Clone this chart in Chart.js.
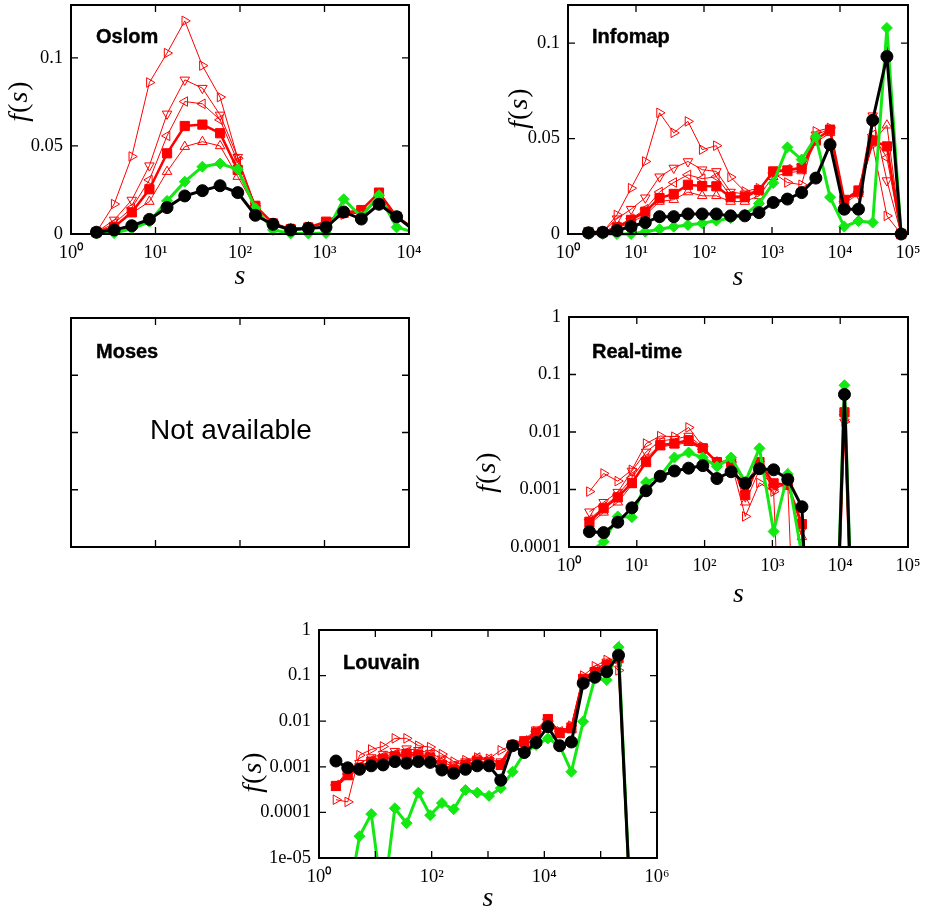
<!DOCTYPE html>
<html>
<head>
<meta charset="utf-8">
<script src="https://cdn.jsdelivr.net/npm/chart.js@4.4.1/dist/chart.umd.min.js"></script>
<style>
  body { margin: 0; background: #fff; width: 929px; height: 922px; position: relative; overflow: hidden; }
  canvas { position: absolute; }
  .tag { position: absolute; font: bold 20px "Liberation Sans", Arial, sans-serif; line-height: 20px; color: #000; -webkit-text-stroke: 0.4px #000; white-space: nowrap; }
  .na { position: absolute; font: 28px "Liberation Sans", Arial, sans-serif; line-height: 28px; color: #000; white-space: nowrap; }
</style>
</head>
<body>
<canvas id="c-oslom"></canvas>
<canvas id="c-infomap"></canvas>
<canvas id="c-moses"></canvas>
<canvas id="c-realtime"></canvas>
<canvas id="c-louvain"></canvas>
<div class="tag" style="left:96px;top:26px">Oslom</div>
<div class="tag" style="left:592px;top:26px">Infomap</div>
<div class="tag" style="left:96px;top:341px">Moses</div>
<div class="tag" style="left:592px;top:341px">Real-time</div>
<div class="tag" style="left:343px;top:652px">Louvain</div>
<div class="na" style="left:150px;top:416px">Not available</div>
<script>
// ---------- data ----------
// log bins of community size s
const S_BINS = [2, 3.24, 5.24, 8.47, 13.7, 22.2, 35.9, 58.1, 94, 152, 246, 398, 644, 1042,
  1686, 2728, 4414, 7142, 11556, 18698, 30254, 48952, 79206, 128158, 207364, 335522];

// Oslom (linear y)
const OSLOM_TRI_R = [0.001, 0.017, 0.044, 0.086, 0.1027, 0.121, 0.0956, 0.0777, 0.043, 0.016, 0.006, 0.003, 0.004, 0.006, 0.011, 0.012, 0.02, 0.01, 0.003];
const OSLOM_TRI_D = [0.001, 0.008, 0.0193, 0.0388, 0.0682, 0.0875, 0.0828, 0.0676, 0.0436, 0.016, 0.006, 0.003, 0.004, 0.006, 0.012, 0.013, 0.024, 0.01, 0.003];
const OSLOM_TRI_L = [0.001, 0.006, 0.0148, 0.0307, 0.0557, 0.0752, 0.0739, 0.0648, 0.041, 0.016, 0.006, 0.003, 0.004, 0.006, 0.012, 0.012, 0.02, 0.01, 0.003];
const OSLOM_TRI_U = [0.001, 0.004, 0.0118, 0.0184, 0.0354, 0.0496, 0.0524, 0.05, 0.0326, 0.015, 0.006, 0.003, 0.004, 0.006, 0.012, 0.012, 0.019, 0.01, 0.003];
const OSLOM_SQ    = [0.001, 0.004, 0.0123, 0.0254, 0.0458, 0.0613, 0.0621, 0.0572, 0.0364, 0.016, 0.006, 0.0027, 0.0037, 0.007, 0.012, 0.0136, 0.0235, 0.0098, 0.003];
const OSLOM_GREEN = [0.0003, 0.0005, 0.003, 0.007, 0.0188, 0.0297, 0.0382, 0.04, 0.0367, 0.0146, 0.0023, 0.0003, 0.0003, 0.0005, 0.0197, 0.0098, 0.022, 0.0038, 0.001];
const OSLOM_BLACK = [0.001, 0.0023, 0.0047, 0.0083, 0.015, 0.0216, 0.0246, 0.0274, 0.0235, 0.0106, 0.0055, 0.0023, 0.0032, 0.0038, 0.0125, 0.0085, 0.0169, 0.0098, 0.002];

// Infomap (linear y)
const INFO_TRI_R = [0.001, 0.001, 0.01, 0.024, 0.038, 0.0635, 0.053, 0.059, 0.0442, 0.0463, 0.0298, 0.0223, 0.024, 0.032, 0.027, 0.0258, 0.0538, 0.0556, 0.018, 0.022, 0.0468, 0.0095, 0];
const INFO_TRI_D = [0.001, 0.001, 0.008, 0.013, 0.019, 0.03, 0.0346, 0.038, 0.0337, 0.0328, 0.022, 0.021, 0.023, 0.033, 0.034, 0.035, 0.052, 0.055, 0.018, 0.021, 0.062, 0.028, 0];
const INFO_TRI_L = [0.001, 0.001, 0.004, 0.008, 0.013, 0.022, 0.027, 0.031, 0.029, 0.03, 0.02, 0.02, 0.023, 0.032, 0.034, 0.034, 0.05, 0.054, 0.017, 0.022, 0.052, 0.04, 0];
const INFO_TRI_U = [0.001, 0.001, 0.003, 0.006, 0.01, 0.017, 0.018, 0.022, 0.02, 0.02, 0.017, 0.017, 0.02, 0.03, 0.032, 0.033, 0.048, 0.053, 0.016, 0.021, 0.048, 0.057, 0];
const INFO_SQ    = [0.001, 0.001, 0.0035, 0.0074, 0.0117, 0.0188, 0.021, 0.0258, 0.0251, 0.025, 0.0193, 0.0193, 0.023, 0.0328, 0.0333, 0.0346, 0.0494, 0.0547, 0.0179, 0.0228, 0.049, 0.0459, 0];
const INFO_GREEN = [0, 0, 0, 0, 0.0012, 0.0025, 0.0038, 0.0047, 0.0056, 0.007, 0.0083, 0.01, 0.016, 0.0267, 0.0454, 0.039, 0.0508, 0.0193, 0.0039, 0.0068, 0.006, 0.108, 0];
const INFO_BLACK = [0.0006, 0.0009, 0.0018, 0.0039, 0.006, 0.0091, 0.0091, 0.0105, 0.0105, 0.0105, 0.0095, 0.0095, 0.0112, 0.0165, 0.0183, 0.0217, 0.0293, 0.0468, 0.013, 0.013, 0.0596, 0.093, 0];

// Real-time (log y, 1e-9 = below the visible range)
const RT_TRI_R = [9.2e-4, 1.9e-3, 1.4e-3, 2.2e-3, 6.3e-3, 8.5e-3, 8.3e-3, 0.012, 5.6e-3, 3e-3, 3e-3, 3.4e-4, 1.3e-3, 9.2e-4, 1e-9, 1e-9, 1e-9, 1e-9, 0.015, 1e-9];
const RT_TRI_D = [4.1e-4, 6e-4, 9e-4, 2.1e-3, 4.5e-3, 7e-3, 7.5e-3, 8.5e-3, 5.5e-3, 3e-3, 3e-3, 1.3e-3, 2.8e-3, 1e-3, 1.3e-3, 2e-4, 1e-9, 1e-9, 0.015, 1e-9];
const RT_TRI_L = [3e-4, 5e-4, 8e-4, 1.6e-3, 3.5e-3, 6e-3, 6.5e-3, 7e-3, 5e-3, 3e-3, 3e-3, 9e-4, 2.5e-3, 1.2e-3, 1.2e-3, 1e-9, 1e-9, 1e-9, 0.02, 1e-9];
const RT_TRI_U = [2.5e-4, 4e-4, 6e-4, 1.2e-3, 3e-3, 5.5e-3, 6e-3, 6.5e-3, 5e-3, 3e-3, 3.2e-3, 6e-4, 2.2e-3, 1.1e-3, 1.2e-3, 1.5e-4, 1e-9, 1e-9, 0.025, 1e-9];
const RT_SQ    = [2.75e-4, 4.7e-4, 7.3e-4, 1.3e-3, 3e-3, 5.9e-3, 6.3e-3, 7.2e-3, 5.2e-3, 3e-3, 3e-3, 8e-4, 3e-3, 1.28e-3, 1.2e-3, 2.5e-4, 1e-9, 1e-9, 0.022, 1e-9];
const RT_GREEN = [8e-5, 1.24e-4, 3.4e-4, 3.3e-4, 1.34e-3, 1.7e-3, 3.6e-3, 4.4e-3, 3.6e-3, 2.5e-3, 3.6e-3, 1.37e-3, 5.2e-3, 1.86e-4, 1.86e-3, 7e-5, 1e-9, 1e-9, 0.065, 1e-9];
const RT_BLACK = [1.85e-4, 1.78e-4, 2.7e-4, 4.8e-4, 9.5e-4, 1.7e-3, 2.1e-3, 2.35e-3, 2.6e-3, 1.55e-3, 2.04e-3, 1.28e-3, 2.3e-3, 2.2e-3, 1.5e-3, 5e-4, 1e-9, 1e-9, 0.045, 1e-9];

// Louvain (log y, 1e-6 = below the visible range)
const LV_TRI_R = [1.9e-4, 1.7e-4, 1.8e-3, 2.4e-3, 2.8e-3, 4.2e-3, 4.2e-3, 2.9e-3, 2.7e-3, 1.9e-3, 1.3e-3, 1.4e-3, 1.6e-3, 1.5e-3, 2.3e-3, 3e-3, 3.5e-3, 6e-3, 0.01, 6e-3, 8e-3, 0.1, 0.16, 0.22, 0.13, 1e-6];
const LV_TRI_D = [4e-4, 8e-4, 1.2e-3, 1.6e-3, 1.9e-3, 2.2e-3, 2.5e-3, 2.3e-3, 2e-3, 1.5e-3, 1.1e-3, 1.3e-3, 1.5e-3, 1.4e-3, 1.3e-3, 3.2e-3, 4e-3, 6.5e-3, 0.012, 6e-3, 8e-3, 0.09, 0.13, 0.2, 0.27, 1e-6];
const LV_TRI_L = [4e-4, 7e-4, 1e-3, 1.4e-3, 1.7e-3, 1.9e-3, 2.1e-3, 2e-3, 1.8e-3, 1.3e-3, 1e-3, 1.2e-3, 1.6e-3, 1.5e-3, 1.2e-3, 3e-3, 3.8e-3, 6e-3, 0.011, 6e-3, 7.5e-3, 0.08, 0.14, 0.19, 0.2, 1e-6];
const LV_TRI_U = [3.5e-4, 6e-4, 9e-4, 1.2e-3, 1.4e-3, 1.6e-3, 1.7e-3, 1.6e-3, 1.5e-3, 1e-3, 8e-4, 1e-3, 1.2e-3, 1.1e-3, 1e-3, 2.8e-3, 3.3e-3, 5e-3, 0.01, 5e-3, 6.5e-3, 0.075, 0.11, 0.15, 0.22, 1e-6];
const LV_SQ    = [3.8e-4, 6.6e-4, 9.5e-4, 1.3e-3, 1.5e-3, 1.7e-3, 1.9e-3, 1.8e-3, 1.6e-3, 1.1e-3, 8.5e-4, 1.1e-3, 1.3e-3, 1.2e-3, 1.1e-3, 3e-3, 3.5e-3, 5.5e-3, 0.011, 5.5e-3, 7e-3, 0.085, 0.12, 0.17, 0.25, 1e-6];
const LV_GREEN = [1e-6, 1e-6, 3e-5, 9.2e-5, 1e-6, 1.23e-4, 5.8e-5, 2.7e-4, 8.7e-5, 1.6e-4, 1.17e-4, 3.1e-4, 2.7e-4, 2.3e-4, 3.4e-4, 7.8e-4, 2e-3, 3e-3, 4.2e-3, 2.9e-3, 7.8e-4, 9.8e-3, 0.09, 0.08, 0.42, 1e-6];
const LV_BLACK = [1.34e-3, 9.5e-4, 8.8e-4, 1.05e-3, 1.1e-3, 1.3e-3, 1.2e-3, 1.3e-3, 1.25e-3, 8.5e-4, 7.2e-4, 8.8e-4, 1.05e-3, 1.05e-3, 5.1e-4, 2.9e-3, 2.05e-3, 3.4e-3, 7.6e-3, 2.9e-3, 3.5e-3, 0.068, 0.092, 0.122, 0.28, 1e-6];

// ticks
const X_DEC4 = [1, 10, 100, 1000, 10000];
const X_DEC5 = [1, 10, 100, 1000, 10000, 100000];
const X_DEC6 = [1, 10, 100, 1000, 10000, 100000, 1000000];
const X_LAB4 = ["10⁰", "10¹", "10²", "10³", "10⁴"];
const X_LAB5 = ["10⁰", "10¹", "10²", "10³", "10⁴", "10⁵"];
const X_LAB6 = ["10⁰", "", "10²", "", "10⁴", "", "10⁶"];
const LIN_Y_TICKS = [0, 0.05, 0.1];
const LIN_Y_LABELS = ["0", "0.05", "0.1"];
const RT_Y_TICKS = [1e-4, 1e-3, 1e-2, 0.1, 1];
const RT_Y_LABELS = ["0.0001", "0.001", "0.01", "0.1", "1"];
const LV_Y_TICKS = [1e-5, 1e-4, 1e-3, 1e-2, 0.1, 1];
const LV_Y_LABELS = ["1e-05", "0.0001", "0.001", "0.01", "0.1", "1"];

// ---------- styles ----------
const SERIF = '"Liberation Serif", "Times New Roman", serif';
Chart.defaults.font.family = SERIF;
Chart.defaults.color = "#000";

const RED = "#ff0000", GREEN = "#13e813", BLACK = "#000000";
const KINDS = {
  triR:  { color: RED,   style: "triangle", rot: 90,  fill: false, lw: 1,   r: 5.5, order: 3 },
  triD:  { color: RED,   style: "triangle", rot: 180, fill: false, lw: 1,   r: 5.5, order: 3 },
  triL:  { color: RED,   style: "triangle", rot: 270, fill: false, lw: 1,   r: 5.5, order: 3 },
  triU:  { color: RED,   style: "triangle", rot: 0,   fill: false, lw: 1,   r: 5.5, order: 3 },
  sq:    { color: RED,   style: "rect",     rot: 0,   fill: true,  lw: 2.5, r: 6.5, order: 2 },
  green: { color: GREEN, style: "rectRot",  rot: 0,   fill: true,  lw: 3,   r: 5.5, order: 1 },
  black: { color: BLACK, style: "circle",   rot: 0,   fill: true,  lw: 3,   r: 6, order: 0 },
};

function series(vals, kind, clip) {
  const k = KINDS[kind];
  return {
    data: vals.map((v, i) => ({ x: S_BINS[i], y: v })),
    borderColor: k.color, borderWidth: k.lw, tension: 0, fill: false,
    pointStyle: k.style, pointRotation: k.rot, pointRadius: k.r,
    pointBackgroundColor: k.fill ? k.color : "rgba(0,0,0,0)",
    pointBorderColor: k.color, pointBorderWidth: 1,
    order: k.order, clip,
  };
}

function group(arrs, clip) {
  const kinds = ["triR", "triD", "triL", "triU", "sq", "green", "black"];
  return arrs.map((a, i) => series(a, kinds[i], clip));
}

// inward ticks on all four sides + frame
const TICK = 7;
const frameTicks = {
  id: "frameTicks",
  afterDatasetsDraw(chart) {
    const { ctx, chartArea: a, scales: { x, y } } = chart;
    ctx.save();
    ctx.strokeStyle = "#000";
    ctx.lineWidth = 1.3;
    ctx.beginPath();
    x.ticks.forEach((t) => {
      const p = x.getPixelForValue(t.value);
      ctx.moveTo(p, a.bottom); ctx.lineTo(p, a.bottom - TICK);
      ctx.moveTo(p, a.top);    ctx.lineTo(p, a.top + TICK);
    });
    y.ticks.forEach((t) => {
      const p = y.getPixelForValue(t.value);
      ctx.moveTo(a.left, p);  ctx.lineTo(a.left + TICK, p);
      ctx.moveTo(a.right, p); ctx.lineTo(a.right - TICK, p);
    });
    ctx.stroke();
    ctx.lineWidth = 2;
    ctx.strokeRect(a.left, a.top, a.right - a.left, a.bottom - a.top);
    ctx.restore();
  },
};

// y title "f(s)" with italic f and s, drawn rotated at a given height
const Y_TITLE_PARTS = [["f", "italic "], ["(", ""], ["s", "italic "], [")", ""]];
function yTitlePlugin(cy) {
  return {
    id: "yTitle",
    afterDraw(chart) {
      const ctx = chart.ctx;
      ctx.save();
      ctx.translate(16, cy);
      ctx.rotate(-Math.PI / 2);
      ctx.fillStyle = "#000";
      ctx.textBaseline = "middle";
      const font = (st) => st + "28px " + SERIF;
      let w = 0;
      Y_TITLE_PARTS.forEach(([t, st]) => { ctx.font = font(st); w += ctx.measureText(t).width + 1; });
      let x = -w / 2;
      Y_TITLE_PARTS.forEach(([t, st]) => { ctx.font = font(st); ctx.fillText(t, x, 0); x += ctx.measureText(t).width + 1; });
      ctx.restore();
    },
  };
}

// generous margins so tick-label overhang never moves the plot area
const PAD_T = 24, PAD_R = 28;

function panel(id, cfg) {
  const [L, T, R, B] = cfg.rect;
  const cv = document.getElementById(id);
  cv.style.left = (L - cfg.padL) + "px";
  cv.style.top = (T - PAD_T) + "px";
  cv.width = R - L + cfg.padL + PAD_R;
  cv.height = B - T + PAD_T + cfg.padB;
  const showLabels = cfg.labels !== false;
  const plugins = [frameTicks];
  if (showLabels) plugins.push(yTitlePlugin(cfg.titleY - (T - PAD_T)));
  return new Chart(cv, {
    type: "line",
    data: { datasets: cfg.datasets },
    options: {
      responsive: false, animation: false, devicePixelRatio: 1, events: [],
      layout: { padding: { top: PAD_T, right: PAD_R, left: 0, bottom: 0 } },
      plugins: { legend: { display: false }, tooltip: { enabled: false } },
      scales: {
        x: {
          type: "logarithmic", min: cfg.xTicks[0], max: cfg.xTicks[cfg.xTicks.length - 1],
          afterBuildTicks: (s) => { s.ticks = cfg.xTicks.map((v) => ({ value: v })); },
          afterFit: (s) => { s.height = cfg.padB; },
          ticks: { display: showLabels, autoSkip: false, maxRotation: 0, padding: 8,
                   font: { size: 18.5 }, callback: (v, i) => cfg.xLabels[i] },
          grid: { display: false, drawTicks: false }, border: { display: false },
          title: { display: showLabels, text: "s", padding: 0, font: { size: 28, style: "italic" } },
        },
        y: {
          type: cfg.yType, min: cfg.yMin, max: cfg.yMax,
          afterBuildTicks: (s) => { s.ticks = cfg.yTicks.map((v) => ({ value: v })); },
          afterFit: (s) => { s.width = cfg.padL; },
          ticks: { display: showLabels, autoSkip: false, padding: 8,
                   font: { size: 18.5 }, callback: (v, i) => cfg.yLabels[i] },
          grid: { display: false, drawTicks: false }, border: { display: false },
          title: { display: false },
        },
      },
    },
    plugins,
  });
}

// ---------- panels ----------
const CLIP_LIN = { left: 8, right: 0, top: 8, bottom: 8 };
const CLIP_LIN_R = { left: 8, right: 8, top: 8, bottom: 8 };
const CLIP_LOG = { left: 8, right: 8, top: 8, bottom: 0 };

panel("c-oslom", {
  rect: [71, 5, 409, 234], padL: 67, padB: 59, titleY: 101,
  xTicks: X_DEC4, xLabels: X_LAB4,
  yType: "linear", yMin: 0, yMax: 0.13, yTicks: LIN_Y_TICKS, yLabels: LIN_Y_LABELS,
  datasets: group([OSLOM_TRI_R, OSLOM_TRI_D, OSLOM_TRI_L, OSLOM_TRI_U, OSLOM_SQ, OSLOM_GREEN, OSLOM_BLACK], CLIP_LIN),
});

panel("c-infomap", {
  rect: [568, 5, 908, 234], padL: 64, padB: 60, titleY: 108,
  xTicks: X_DEC5, xLabels: X_LAB5,
  yType: "linear", yMin: 0, yMax: 0.12, yTicks: LIN_Y_TICKS, yLabels: LIN_Y_LABELS,
  datasets: group([INFO_TRI_R, INFO_TRI_D, INFO_TRI_L, INFO_TRI_U, INFO_SQ, INFO_GREEN, INFO_BLACK], CLIP_LIN_R),
});

panel("c-moses", {
  rect: [71, 318, 409, 547], padL: 67, padB: 60, labels: false,
  xTicks: X_DEC4, xLabels: X_LAB4,
  yType: "logarithmic", yMin: 1e-4, yMax: 1, yTicks: RT_Y_TICKS, yLabels: RT_Y_LABELS,
  datasets: [],
});

panel("c-realtime", {
  rect: [569, 317, 908, 547], padL: 97, padB: 64, titleY: 472,
  xTicks: X_DEC5, xLabels: X_LAB5,
  yType: "logarithmic", yMin: 1e-4, yMax: 1, yTicks: RT_Y_TICKS, yLabels: RT_Y_LABELS,
  datasets: group([RT_TRI_R, RT_TRI_D, RT_TRI_L, RT_TRI_U, RT_SQ, RT_GREEN, RT_BLACK], CLIP_LOG),
});

panel("c-louvain", {
  rect: [319, 630, 657, 858], padL: 81, padB: 57, titleY: 772,
  xTicks: X_DEC6, xLabels: X_LAB6,
  yType: "logarithmic", yMin: 1e-5, yMax: 1, yTicks: LV_Y_TICKS, yLabels: LV_Y_LABELS,
  datasets: group([LV_TRI_R, LV_TRI_D, LV_TRI_L, LV_TRI_U, LV_SQ, LV_GREEN, LV_BLACK], CLIP_LOG),
});
</script>
</body>
</html>
